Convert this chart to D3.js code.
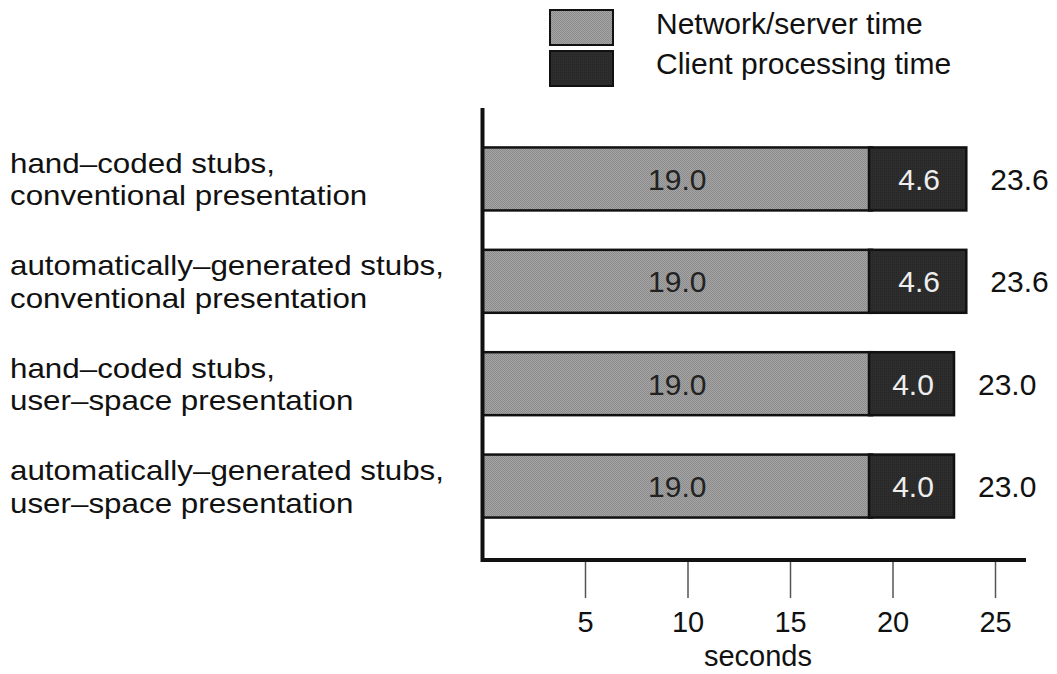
<!DOCTYPE html>
<html><head><meta charset="utf-8">
<script src="https://cdn.jsdelivr.net/npm/d3@7"></script>
<style>body{margin:0;background:#fff}svg{display:block;font-family:"Liberation Sans",Arial,sans-serif}</style>
</head><body>
<svg id="c" width="1057" height="674"></svg>
<script>
const categories = [
  ["hand–coded stubs,", "conventional presentation"],
  ["automatically–generated stubs,", "conventional presentation"],
  ["hand–coded stubs,", "user–space presentation"],
  ["automatically–generated stubs,", "user–space presentation"]
];
const networkTime = [19.0, 19.0, 19.0, 19.0];
const clientTime = [4.6, 4.6, 4.0, 4.0];
const totals = [23.6, 23.6, 23.0, 23.0];
const seriesNames = ["Network/server time", "Client processing time"];
const tickValues = [5, 10, 15, 20, 25];
const axisTitle = "seconds";

const svg = d3.select("#c");
const defs = svg.append("defs");
const p1 = defs.append("pattern").attr("id","netpat").attr("width",2).attr("height",2).attr("patternUnits","userSpaceOnUse");
p1.append("rect").attr("width",2).attr("height",2).attr("fill","#a6a6a6");
p1.append("rect").attr("width",1).attr("height",1).attr("fill","#8a8a8a");
p1.append("rect").attr("x",1).attr("y",1).attr("width",1).attr("height",1).attr("fill","#8a8a8a");
const p2 = defs.append("pattern").attr("id","clipat").attr("width",2).attr("height",2).attr("patternUnits","userSpaceOnUse");
p2.append("rect").attr("width",2).attr("height",2).attr("fill","#2d2d2d");
p2.append("rect").attr("width",1).attr("height",1).attr("fill","#262626");

const x = d3.scaleLinear().domain([0, 26]).range([482.5, 482.5 + 26*20.5]);
const y = d3.scaleBand().domain(d3.range(categories.length)).range([128, 537]).paddingInner(0.385).paddingOuter(0.19);

const g = svg.append("g");
categories.forEach((c, i) => {
  const y0 = y(i), h = y.bandwidth(), cy = y0 + h/2;
  g.append("rect").attr("x", x(0)).attr("y", y0).attr("width", x(networkTime[i]) - x(0)).attr("height", h)
    .attr("fill","url(#netpat)").attr("stroke","#111").attr("stroke-width",2.5);
  g.append("rect").attr("x", x(networkTime[i]) - 3).attr("y", y0).attr("width", x(networkTime[i]+clientTime[i]) - x(networkTime[i]) + 3).attr("height", h)
    .attr("fill","url(#clipat)").attr("stroke","#111").attr("stroke-width",2.5);
  g.append("text").attr("x", (x(0) + x(networkTime[i]))/2).attr("y", cy + 11)
    .attr("text-anchor","middle").attr("font-size",30).attr("fill","#222").text(networkTime[i].toFixed(1));
  g.append("text").attr("x", (x(networkTime[i]) + x(networkTime[i]+clientTime[i]))/2).attr("y", cy + 11)
    .attr("text-anchor","middle").attr("font-size",30).attr("fill","#eee").text(clientTime[i].toFixed(1));
  g.append("text").attr("x", x(totals[i]) + 24).attr("y", cy + 11)
    .attr("text-anchor","start").attr("font-size",30).attr("fill","#111").text(totals[i].toFixed(1));
  const lg = g.append("g").attr("transform", `translate(10,0) scale(1.12,1)`);
  lg.append("text").attr("x",0).attr("y", cy - 6).attr("font-size",28).attr("fill","#111").text(c[0]);
  lg.append("text").attr("x",0).attr("y", cy + 26.5).attr("font-size",28).attr("fill","#111").text(c[1]);
});

// axes
const xAxis = d3.axisBottom(x).tickValues(tickValues).tickSize(38).tickPadding(10).tickFormat(d3.format("d"));
const ax = svg.append("g").attr("transform","translate(0,560)").call(xAxis);
ax.select(".domain").remove();
ax.selectAll(".tick line").attr("stroke","#555").attr("stroke-width",1.5);
ax.selectAll(".tick text").attr("font-size",29).attr("fill","#111").attr("dy",null).attr("y",72)
  .attr("font-family","Liberation Sans, Arial, sans-serif");
svg.append("line").attr("x1",x(0)).attr("x2",1026).attr("y1",560).attr("y2",560).attr("stroke","#111").attr("stroke-width",4);
svg.append("line").attr("x1",x(0)).attr("x2",x(0)).attr("y1",108).attr("y2",562).attr("stroke","#111").attr("stroke-width",4);
svg.append("text").attr("x", 758).attr("y", 666).attr("text-anchor","middle").attr("font-size",29).attr("fill","#111").text(axisTitle);

// legend
const fills = ["url(#netpat)", "url(#clipat)"];
seriesNames.forEach((n, i) => {
  svg.append("rect").attr("x",550).attr("y",10 + i*41).attr("width",63).attr("height",35)
    .attr("fill",fills[i]).attr("stroke","#111").attr("stroke-width",2);
  svg.append("text").attr("x",656).attr("y",34 + i*40).attr("font-size",30).attr("fill","#111").text(n);
});
</script>
</body></html>
